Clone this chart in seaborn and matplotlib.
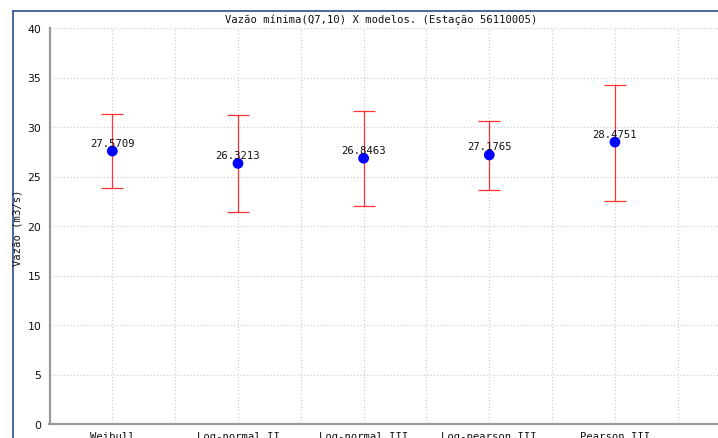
import numpy as np
import pandas as pd
import matplotlib
matplotlib.use("Agg")
import matplotlib.pyplot as plt
import seaborn as sns
from matplotlib.lines import Line2D

models = ["Weibull", "Log-normal II", "Log-normal III", "Log-pearson III", "Pearson III"]
q710 = [27.5709, 26.3213, 26.8463, 27.1765, 28.4751]
lower = [23.85, 21.4, 22.0, 23.6, 22.55]
upper = [31.3, 31.2, 31.6, 30.6, 34.25]
y_ticks = [0, 5, 10, 15, 20, 25, 30, 35, 40]

df = pd.DataFrame({"pos": np.arange(len(models)), "model": models,
                   "q": q710, "lo": lower, "hi": upper})

sns.set_theme(style="white")
plt.rcParams["font.family"] = ["DejaVu Sans Mono", "DejaVu Sans"]

W, H = 718, 439
fig = plt.figure(figsize=(W / 100, H / 100), dpi=100)
ax = fig.add_axes([49.5 / W, 14 / H, 1 - 49.5 / W, 396 / H])

# error bars
yerr = np.vstack([df["q"] - df["lo"], df["hi"] - df["q"]])
ax.errorbar(df["pos"], df["q"], yerr=yerr, fmt="none", ecolor="#ff3333",
            elinewidth=0.9, capsize=8, capthick=0.9, zorder=3)
sns.scatterplot(data=df, x="pos", y="q", color="#0000ff", s=60,
                edgecolor="none", ax=ax, zorder=4)

for x, v in zip(df["pos"], df["q"]):
    ax.annotate(f"{v:.4f}", (x, v), xytext=(0, 2.5), textcoords="offset points",
                ha="center", va="bottom", fontsize=7.6, color="#111111", zorder=5)

ax.set_xlim(-0.5, 4.82)
ax.set_ylim(0, 40)
ax.set_xticks(df["pos"])
ax.set_xticklabels(models, fontsize=7.6)
ax.set_xticks(np.arange(-0.5, 5, 1.0), minor=True)
ax.set_yticks(y_ticks)
ax.set_yticklabels([str(t) for t in y_ticks], fontsize=7.8, family="DejaVu Sans")
ax.set_xlabel("")
ax.set_ylabel("")

ax.grid(True, which="both", linestyle=(0, (1, 2)), color="#c8c8c8", linewidth=0.8)
ax.set_axisbelow(True)
for s in ["top", "right"]:
    ax.spines[s].set_visible(False)
for s in ["left", "bottom"]:
    ax.spines[s].set_color("#999999")
    ax.spines[s].set_linewidth(1.6)
ax.tick_params(axis="x", which="both", direction="inout", length=7, width=0.8,
               color="#555555", pad=1.5, labelcolor="#111111")
ax.tick_params(axis="y", which="both", direction="out", length=4, width=0.8,
               color="#555555", pad=2, labelcolor="#111111")

fig.text(381 / W, 1 - 20 / H, "Vazão mínima(Q7,10) X modelos. (Estação 56110005)",
         ha="center", va="center", fontsize=7.6, color="#111111")
fig.text(18 / W, 1 - 228 / H, "Vazão (m3/s)", rotation=90, ha="center",
         va="center", fontsize=7.6, color="#111111")

# panel border
fig.add_artist(Line2D([12.5 / W, 12.5 / W], [0, 1 - 11.5 / H],
                      transform=fig.transFigure, color="#2a4d8f", lw=1.2))
fig.add_artist(Line2D([12.5 / W, 1], [1 - 11.5 / H, 1 - 11.5 / H],
                      transform=fig.transFigure, color="#2a4d8f", lw=1.2))

fig.savefig("out.png", dpi=100, facecolor="white")
